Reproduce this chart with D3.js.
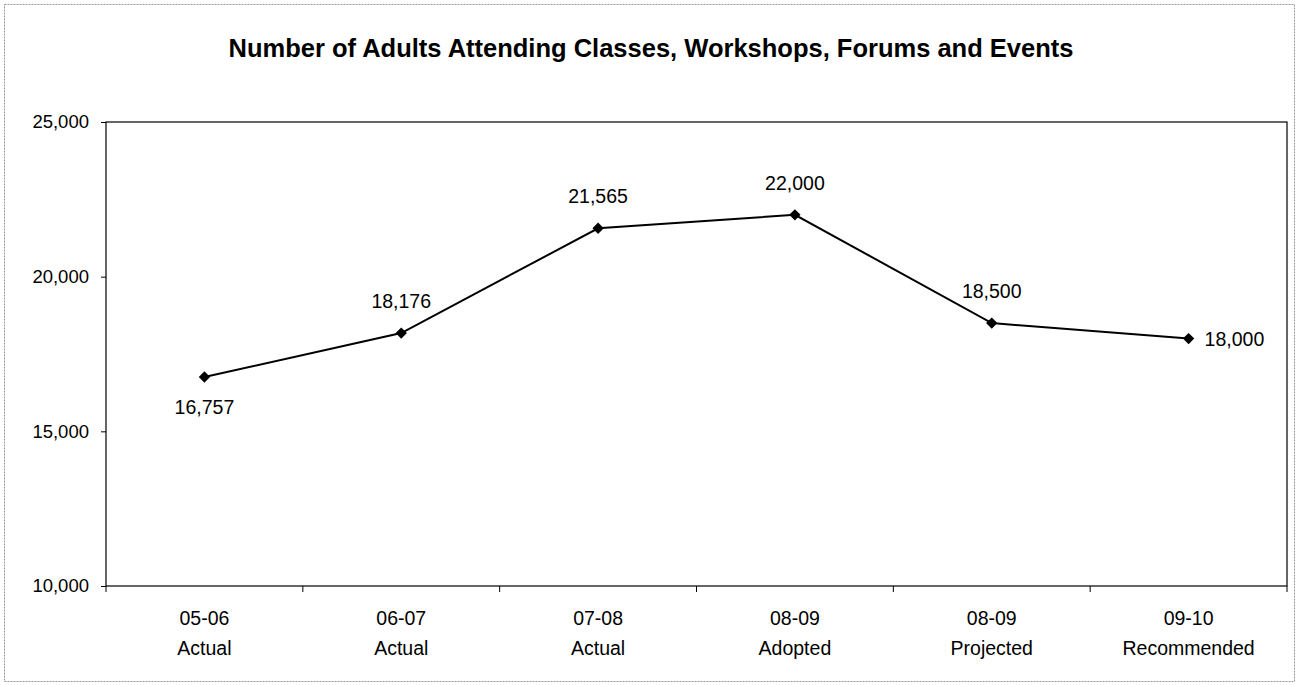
<!DOCTYPE html>
<html>
<head>
<meta charset="utf-8">
<script src="https://cdn.jsdelivr.net/npm/d3@7"></script>
<style>
  body { margin: 0; background: #fff; }
  svg { font-family: Arial, "Liberation Sans", sans-serif; }
</style>
</head>
<body>
<svg id="chart" width="1299" height="685"></svg>
<script>
// chart data
const years = ["05-06", "06-07", "07-08", "08-09", "08-09", "09-10"];
const kinds = ["Actual", "Actual", "Actual", "Adopted", "Projected", "Recommended"];
const adults = [16757, 18176, 21565, 22000, 18500, 18000];
const labelPos = ["below", "above", "above", "above", "above", "right"];
const yTicks = [10000, 15000, 20000, 25000];

const svg = d3.select("#chart");
const plotL = 106, plotR = 1287, plotT = 122, plotB = 586;

// outer frame, dotted grey like the scan
svg.append("rect")
  .attr("x", 4.5).attr("y", 4.5).attr("width", 1290).attr("height", 677)
  .attr("fill", "none").attr("stroke", "#999").attr("stroke-dasharray", "2,1");

svg.append("text")
  .attr("x", 651).attr("y", 57)
  .attr("text-anchor", "middle")
  .style("font-size", "25.5px").style("font-weight", "bold")
  .text("Number of Adults Attending Classes, Workshops, Forums and Events");

const x = d3.scaleBand().domain(d3.range(adults.length)).range([plotL, plotR]);
const y = d3.scaleLinear().domain([10000, 25000]).range([plotB, plotT]);

// plot area border
svg.append("rect")
  .attr("x", plotL).attr("y", plotT).attr("width", plotR - plotL).attr("height", plotB - plotT)
  .attr("fill", "none").attr("stroke", "#000").attr("stroke-width", 1.2);

const yAxis = svg.append("g")
  .attr("transform", "translate(" + plotL + ",0)")
  .call(d3.axisLeft(y).tickValues(yTicks).tickFormat(d3.format(",")).tickSize(5).tickPadding(12));
yAxis.select(".domain").remove();
yAxis.selectAll("text").style("font-size", "18.5px").attr("fill", "#000");

// category ticks sit on the band boundaries
const bounds = d3.range(adults.length + 1).map(i => plotL + i * x.step());
svg.selectAll(".xtick").data(bounds).enter().append("line")
  .attr("x1", d => d).attr("x2", d => d)
  .attr("y1", plotB).attr("y2", plotB + 6)
  .attr("stroke", "#000");

const cats = svg.selectAll(".cat").data(adults).enter().append("text")
  .attr("text-anchor", "middle")
  .style("font-size", "19.5px");
cats.append("tspan")
  .attr("x", (d, i) => x(i) + x.bandwidth() / 2).attr("y", 625)
  .text((d, i) => years[i]);
cats.append("tspan")
  .attr("x", (d, i) => x(i) + x.bandwidth() / 2).attr("y", 655)
  .text((d, i) => kinds[i]);

const line = d3.line()
  .x((d, i) => x(i) + x.bandwidth() / 2)
  .y(d => y(d));

svg.append("path")
  .datum(adults)
  .attr("d", line)
  .attr("fill", "none").attr("stroke", "#000").attr("stroke-width", 2);

svg.selectAll(".pt").data(adults).enter().append("path")
  .attr("d", d3.symbol(d3.symbolSquare, 64))
  .attr("transform", (d, i) => "translate(" + (x(i) + x.bandwidth() / 2) + "," + y(d) + ") rotate(45)")
  .attr("fill", "#000");

svg.selectAll(".lbl").data(adults).enter().append("text")
  .attr("x", (d, i) => {
    const cx = x(i) + x.bandwidth() / 2;
    return labelPos[i] == "right" ? cx + 16 : cx;
  })
  .attr("y", (d, i) => {
    if (labelPos[i] == "below") return y(d) + 37;
    if (labelPos[i] == "right") return y(d) + 7;
    return y(d) - 25;
  })
  .attr("text-anchor", (d, i) => labelPos[i] == "right" ? "start" : "middle")
  .style("font-size", "19.5px")
  .text(d => d3.format(",")(d));
</script>
</body>
</html>
